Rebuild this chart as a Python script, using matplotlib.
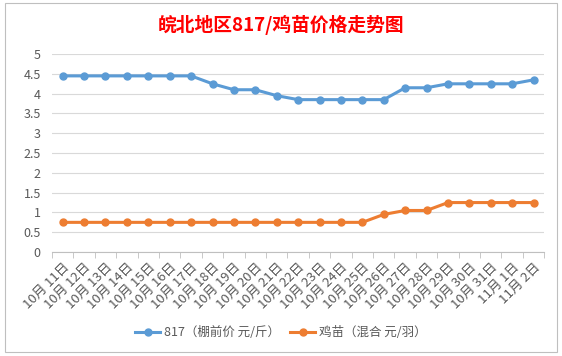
import matplotlib.pyplot as plt
from matplotlib.patches import Rectangle

plt.rcParams['font.family'] = ['Noto Sans CJK SC', 'DejaVu Sans']

# 数据
dates = ['10月 11日', '10月 12日', '10月 13日', '10月 14日', '10月 15日', '10月 16日',
         '10月 17日', '10月 18日', '10月 19日', '10月 20日', '10月 21日', '10月 22日',
         '10月 23日', '10月 24日', '10月 25日', '10月 26日', '10月 27日', '10月 28日',
         '10月 29日', '10月 30日', '10月 31日', '11月 1日', '11月 2日']
price_817 = [4.45, 4.45, 4.45, 4.45, 4.45, 4.45, 4.45, 4.25, 4.1, 4.1, 3.95, 3.85,
             3.85, 3.85, 3.85, 3.85, 4.15, 4.15, 4.25, 4.25, 4.25, 4.25, 4.35]
chick = [0.75, 0.75, 0.75, 0.75, 0.75, 0.75, 0.75, 0.75, 0.75, 0.75, 0.75, 0.75,
         0.75, 0.75, 0.75, 0.95, 1.05, 1.05, 1.25, 1.25, 1.25, 1.25, 1.25]
y_ticks = [0, 0.5, 1, 1.5, 2, 2.5, 3, 3.5, 4, 4.5, 5]
labels = ['817（棚前价 元/斤）', '鸡苗（混合 元/羽）']

blue = '#5B9BD5'
orange = '#ED7D31'
grey = '#595959'

fig = plt.figure(figsize=(5.62, 3.56), dpi=100)
# 图表边框
fig.patches.append(Rectangle((0.009, 0.01), 0.982, 0.982, transform=fig.transFigure,
                             fill=False, edgecolor='#BFBFBF', lw=0.8))

ax = fig.add_axes([0.0925, 0.292, 0.876, 0.556])
x = range(len(dates))
ax.plot(x, price_817, color=blue, lw=2.2, marker='o', ms=5, label=labels[0])
ax.plot(x, chick, color=orange, lw=2.2, marker='o', ms=5, label=labels[1])

ax.set_ylim(0, 5)
ax.set_xlim(-0.5, len(dates) - 0.5)
ax.set_yticks(y_ticks)
ax.set_yticklabels([f'{v:g}' for v in y_ticks], color=grey, fontsize=9)
ax.set_xticks(list(x))
ax.set_xticklabels(dates, rotation=45, ha='right', rotation_mode='anchor',
                   color=grey, fontsize=9.5)
ax.set_xticks([i - 0.5 for i in range(len(dates) + 1)], minor=True)
ax.tick_params(axis='x', which='major', length=0, pad=6)
ax.tick_params(axis='x', which='minor', length=4, color='#BFBFBF')
ax.tick_params(axis='y', length=0, pad=8)

ax.grid(axis='y', color='#D9D9D9', lw=0.8)
ax.set_axisbelow(True)
for s in ['top', 'right', 'left']:
    ax.spines[s].set_visible(False)
ax.spines['bottom'].set_color('#BFBFBF')

fig.text(0.5, 0.93, '皖北地区817/鸡苗价格走势图', ha='center', va='center',
         color='red', fontsize=13.5, fontweight='bold')

fig.legend(loc='center', bbox_to_anchor=(0.5, 0.065), ncol=2, frameon=False,
           fontsize=9, handlelength=2.0, columnspacing=0.8, handletextpad=0.3,
           labelcolor=grey)

fig.savefig('out.png', dpi=100)
